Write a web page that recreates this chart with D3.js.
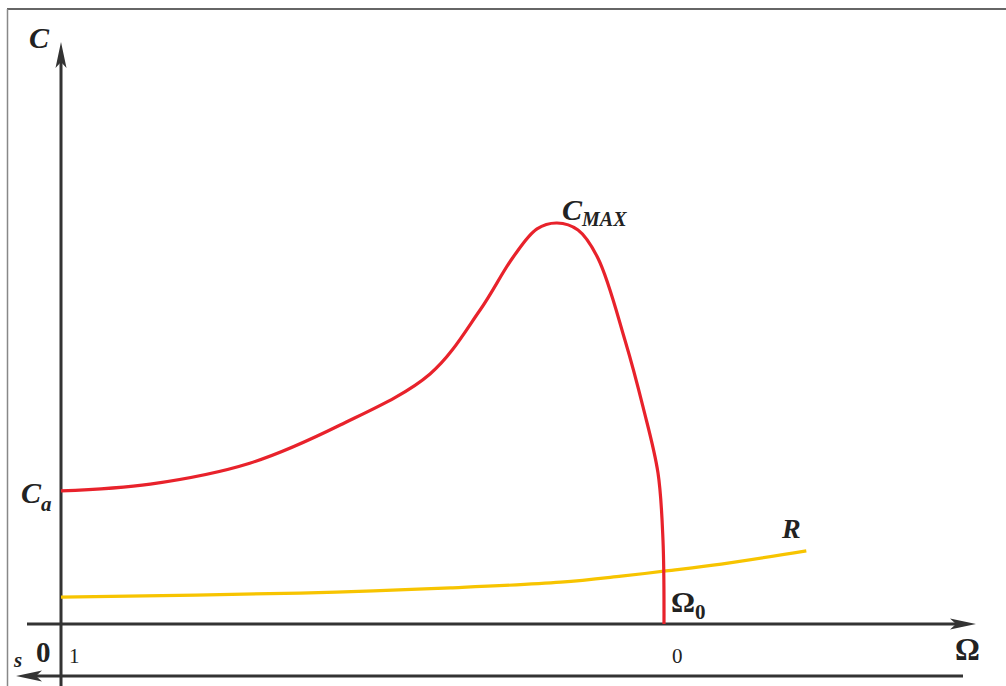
<!DOCTYPE html>
<html>
<head>
<meta charset="utf-8">
<script src="https://cdn.jsdelivr.net/npm/d3@7"></script>
<style>
  html, body { margin: 0; padding: 0; background: #fff; }
  svg text { font-family: "Liberation Serif", "DejaVu Serif", "Times New Roman", serif; fill: #222; }
</style>
</head>
<body>
<svg id="chart" width="1006" height="686"></svg>
<script>
// Torque–speed characteristic: slip s runs from 1 (standstill) to 0 (synchronous speed Ω0)
const torqueSlip = [1.0, 0.852, 0.687, 0.537, 0.388, 0.305, 0.250, 0.2106, 0.1774, 0.1426, 0.1095, 0.0647, 0.0348, 0.0100, 0.0017, 0.0];
const torqueValue = [33.1, 34.8, 40.0, 49.5, 62.2, 78.1, 91.3, 98.3, 99.75, 98.0, 91.0, 70.6, 54.0, 37.6, 20.9, 0];

// Load (resisting) torque R
const loadSlip = [1.0, 0.603, 0.354, 0.171, 0.071, -0.003, -0.095, -0.236];
const loadValue = [6.7, 7.7, 9.0, 10.4, 11.9, 13.2, 14.9, 18.2];

// Slip tick labels
const slipTicks = [1, 0];

const svg = d3.select("#chart");

const x = d3.scaleLinear().domain([1, 0]).range([61, 664]);
const y = d3.scaleLinear().domain([0, 100]).range([624, 222]);

// frame
svg.append("line").attr("x1", 7).attr("x2", 1006).attr("y1", 9).attr("y2", 9)
  .attr("stroke", "#666").attr("stroke-width", 2);
svg.append("line").attr("x1", 7.5).attr("x2", 7.5).attr("y1", 9).attr("y2", 686)
  .attr("stroke", "#888").attr("stroke-width", 1.5);

const axisColor = "#333";

function arrowHead(tx, ty, dir) {
  // slim arrowhead with a notched back; dir: "up", "right", "left"
  const L = 26, W = 5.5, N = 20;
  let pts;
  if (dir === "up") pts = [[tx, ty], [tx + W, ty + L], [tx, ty + N], [tx - W, ty + L]];
  else if (dir === "right") pts = [[tx, ty], [tx - L, ty - W], [tx - N, ty], [tx - L, ty + W]];
  else pts = [[tx, ty], [tx + L, ty - W], [tx + N, ty], [tx + L, ty + W]];
  svg.append("path").attr("d", "M" + pts.map(p => p.join(",")).join("L") + "Z")
    .attr("fill", axisColor);
}

// vertical C axis
svg.append("line").attr("x1", x(1)).attr("x2", x(1)).attr("y1", 60).attr("y2", 686)
  .attr("stroke", axisColor).attr("stroke-width", 3);
arrowHead(x(1), 42, "up");

// horizontal Ω axis
svg.append("line").attr("x1", 27).attr("x2", 962).attr("y1", y(0)).attr("y2", y(0))
  .attr("stroke", axisColor).attr("stroke-width", 3);
arrowHead(976, y(0), "right");

// slip axis (pointing left)
svg.append("line").attr("x1", 32).attr("x2", 963).attr("y1", 676).attr("y2", 676)
  .attr("stroke", axisColor).attr("stroke-width", 3);
arrowHead(16, 676, "left");

// curves
const line = d3.line().x(d => x(d[0])).y(d => y(d[1])).curve(d3.curveCatmullRom.alpha(0.5));

svg.append("path")
  .datum(loadSlip.map((s, i) => [s, loadValue[i]]))
  .attr("d", line).attr("fill", "none")
  .attr("stroke", "#f7c400").attr("stroke-width", 3.2);

svg.append("path")
  .datum(torqueSlip.map((s, i) => [s, torqueValue[i]]))
  .attr("d", line).attr("fill", "none")
  .attr("stroke", "#e8222b").attr("stroke-width", 3.2);

// labels
function label(tx, ty, parts) {
  const t = svg.append("text").attr("x", tx).attr("y", ty);
  parts.forEach(p => {
    const ts = t.append("tspan").text(p.text)
      .attr("font-size", p.size).attr("font-style", p.italic ? "italic" : "normal")
      .attr("font-weight", p.bold ? "bold" : "normal");
    if (p.dy) ts.attr("dy", p.dy);
  });
  return t;
}

label(29, 48, [{ text: "C", size: 30, italic: true, bold: true }]);
label(21, 503, [{ text: "C", size: 30, italic: true, bold: true },
                { text: "a", size: 21, italic: true, bold: true, dy: 8 }]);
label(562, 220, [{ text: "C", size: 30, italic: true, bold: true },
                 { text: "MAX", size: 20, italic: true, bold: true, dy: 6 }]);
label(782, 538, [{ text: "R", size: 28, italic: true, bold: true }]);
label(671, 612, [{ text: "Ω", size: 30, bold: true },
                 { text: "0", size: 21, bold: true, dy: 7 }]);
label(955, 660, [{ text: "Ω", size: 31, bold: true }]);
label(36, 662, [{ text: "0", size: 29, bold: true }]);
label(14, 667, [{ text: "s", size: 21, italic: true, bold: true }]);

// slip tick labels
svg.selectAll("text.tick").data(slipTicks).enter().append("text")
  .attr("class", "tick")
  .attr("x", d => x(d) + 8).attr("y", 663)
  .attr("font-size", 21)
  .text(d => d);
</script>
</body>
</html>
